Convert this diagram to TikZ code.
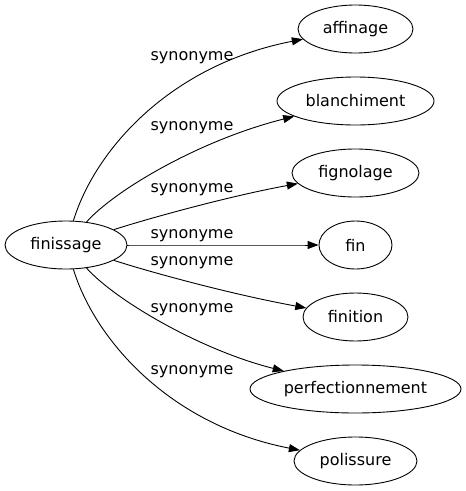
\documentclass[tikz,border=0pt]{standalone}
\usepackage{fontspec}
\setmainfont{DejaVu Sans}
\usepackage{tikz}
\usetikzlibrary{shapes.geometric, arrows.meta}

\begin{document}
\begin{tikzpicture}[x=1pt, y=-1pt,
    term/.style={ellipse, draw, line width=0.9pt, minimum height=48pt, inner sep=0pt, font=\fontsize{16}{19}\selectfont},
    syn/.style={-{Triangle[length=11pt, width=8pt]}, line width=0.9pt},
    lbl/.style={inner sep=0pt, font=\fontsize{16}{19}\selectfont}]
    % Fix the page size
    \useasboundingbox (0,0) rectangle (466,491);

    % Draw the source word
    \node[term, minimum width=122pt] (finissage) at (66,245) {finissage};

    % Draw the synonyms in one column
    \foreach \name/\w/\yy in {affinage/115/29, blanchiment/157/101, fignolage/127/173, fin/73/245,
                              finition/105/317, perfectionnement/211/389, polissure/123/461}
        \node[term, minimum width=\w pt] (\name) at (355.5,\yy) {\name};

    % Connect the source to every synonym
    \foreach \name/\a/\b in {affinage/{95,150}/{170,65}, blanchiment/{115,190}/{200,140},
                             fignolage/{150,218}/{230,196}, fin/{150,245}/{250,245},
                             finition/{150,272}/{230,294}, perfectionnement/{115,300}/{200,350},
                             polissure/{95,340}/{170,425}}
        \draw[syn] (finissage) .. controls (\a) and (\b) .. (\name);

    % Optional: label the connectors
    \foreach \yy [count=\i] in {58, 128, 190, 236, 263, 310, 372}
        \node[lbl] (syn\i) at (192,\yy) {synonyme};
\end{tikzpicture}
\end{document}
